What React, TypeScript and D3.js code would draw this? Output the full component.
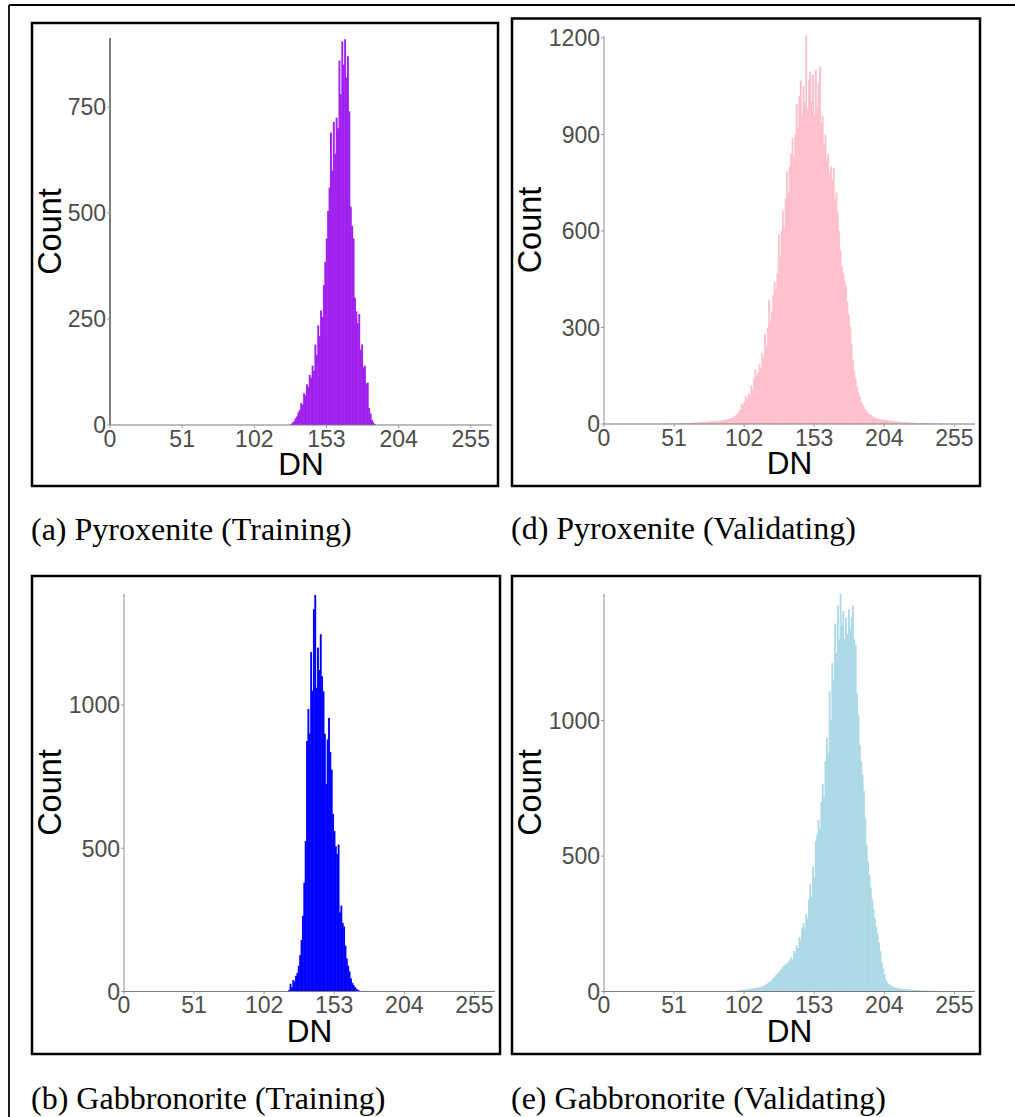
import React from 'react';
import * as d3 from 'd3';

// ---------- data ----------
const dnTicks = [0, 51, 102, 153, 204, 255];
const dnDomainMax = 270;

// (a) Pyroxenite (Training): counts per DN, starting at DN 128
const pyroxTrainStart = 128;
const pyroxTrainCounts = [
  3, 6, 9, 16, 20, 30, 36, 52, 48, 75,
  70, 96, 90, 118, 112, 140, 128, 190, 165, 235,
  210, 270, 255, 330, 385, 440, 505, 560, 690, 600,
  715, 640, 725, 700, 860, 780, 905, 850, 910, 820,
  870, 740, 515, 470, 440, 300, 268, 240, 262, 178,
  190, 136, 140, 98, 100, 40, 27, 12, 6, 2,
];
const pyroxTrainYTicks = [0, 250, 500, 750];
const pyroxTrainYMax = 913;

// (d) Pyroxenite (Validating): counts per DN, starting at DN 45
const pyroxValidStart = 45;
const pyroxValidCounts = [
  1, 1, 1, 1, 1, 1, 2, 1, 2, 2, 2, 2, 3, 2, 3,
  3, 3, 4, 3, 4, 4, 5, 4, 5, 5, 6, 5, 6, 6, 7, 7, 8, 7, 8, 9,
  9, 8, 10, 9, 11, 10, 12, 11, 14, 13, 16, 15, 19, 18, 22, 25, 28, 32, 38, 45,
  62, 58, 70, 86, 75, 95, 88, 120, 108, 140, 170, 150, 160, 186, 175, 220, 205, 280, 240, 300,
  385, 320, 350, 400, 441, 420, 470, 590, 520, 600, 663, 610, 700, 785, 720, 800, 840, 890, 830, 900,
  995, 920, 1020, 1067, 960, 1050, 1000, 1208, 980, 1070, 1095, 1000, 1085, 960, 1100, 990, 1060, 1111, 940, 956,
  870, 900, 818, 840, 780, 800, 760, 796, 700, 720, 657, 600, 540, 491, 470, 445, 430, 380, 340, 302,
  250, 200, 164, 140, 115, 97, 85, 70, 62, 53, 45, 40, 35, 30, 28, 25, 22, 20, 18, 17,
  16, 15, 14, 14, 13, 12, 12, 11, 10, 10, 9, 9, 8, 8, 7, 7, 7, 6, 6, 6,
  5, 5, 5, 4, 4, 4, 4, 3, 3, 3, 3, 3, 2, 2, 2, 2, 2, 2, 1, 1,
  1, 1, 1, 1, 1, 1, 0, 1, 0, 1,
];
const pyroxValidYTicks = [0, 300, 600, 900, 1200];
const pyroxValidYMax = 1206;

// (b) Gabbronorite (Training): counts per DN, starting at DN 120
const gabbroTrainStart = 120;
const gabbroTrainCounts = [
  5, 27, 15, 40, 35, 55, 65, 90, 127, 180,
  264, 380, 525, 874, 986, 900, 1185, 1050, 1334, 1384,
  1060, 1200, 1122, 1247, 1100, 1048, 900, 724, 880, 955,
  836, 774, 620, 560, 507, 480, 513, 276, 300, 240,
  227, 160, 115, 90, 70, 46, 30, 22, 15, 10,
  6, 3,
];
const gabbroTrainYTicks = [0, 500, 1000];
const gabbroTrainYMax = 1389;

// (e) Gabbronorite (Validating): counts per DN, starting at DN 95
const gabbroValidStart = 95;
const gabbroValidCounts = [
  1, 2, 3, 4, 5, 5, 6, 7, 7, 8, 9, 10, 11, 12, 12, 13, 14, 15, 16, 17,
  19, 21, 23, 26, 30, 34, 38, 42, 48, 54, 60, 66, 71, 78, 84, 90, 96, 100, 104, 108,
  115, 125, 118, 150, 140, 170, 160, 200, 190, 235, 253, 230, 286, 270, 340, 397, 350, 460, 420, 555,
  580, 634, 600, 700, 766, 720, 850, 937, 880, 1108, 1000, 1213, 1150, 1358, 1250, 1424, 1300, 1469, 1350, 1404,
  1300, 1380, 1320, 1411, 1340, 1380, 1424, 1300, 1279, 1100, 1020, 911, 850, 800, 740, 640, 542, 480, 430, 384,
  340, 305, 270, 240, 213, 180, 150, 108, 85, 65, 42, 35, 28, 24, 20, 18, 16, 14, 13, 12,
  11, 10, 10, 9, 9, 8, 8, 7, 7, 6, 6, 5, 5, 5, 4, 4, 4, 3, 3, 3,
  3, 3, 2, 2, 2, 2, 2, 2, 1, 1, 1, 1, 1, 1, 1, 1, 1, 1, 1, 1,
];
const gabbroValidYTicks = [0, 500, 1000];
const gabbroValidYMax = 1469;

const captions = [
  '(a) Pyroxenite (Training)',
  '(d) Pyroxenite (Validating)',
  '(b) Gabbronorite (Training)',
  '(e) Gabbronorite (Validating)',
];
const fills = ['#a020f0', '#ffc0cb', '#0000ff', '#add8e6'];

// ---------- layout ----------
const layouts = [
  { box: [32, 23, 498, 486], plot: { l: 110, t: 38, r: 492, b: 425 }, countX: 49.5, capX: 31, capY: 540, yAxisColor: '#3a3a3a' },
  { box: [512, 18.5, 980, 486], plot: { l: 604, t: 36, r: 975, b: 424 }, countX: 530, capX: 511, capY: 538.5, yAxisColor: '#a8a8a8' },
  { box: [32, 576, 500, 1054], plot: { l: 124, t: 593.5, r: 495, b: 991.5 }, countX: 50, capX: 31, capY: 1108.5, yAxisColor: '#a8a8a8' },
  { box: [512, 576, 980, 1054], plot: { l: 604, t: 593.5, r: 975, b: 991.5 }, countX: 530, capX: 511, capY: 1108.5, yAxisColor: '#a8a8a8' },
];

const series = [
  { start: pyroxTrainStart, counts: pyroxTrainCounts, yTicks: pyroxTrainYTicks, yMax: pyroxTrainYMax },
  { start: pyroxValidStart, counts: pyroxValidCounts, yTicks: pyroxValidYTicks, yMax: pyroxValidYMax },
  { start: gabbroTrainStart, counts: gabbroTrainCounts, yTicks: gabbroTrainYTicks, yMax: gabbroTrainYMax },
  { start: gabbroValidStart, counts: gabbroValidCounts, yTicks: gabbroValidYTicks, yMax: gabbroValidYMax },
];

const SANS = '"Liberation Sans", Arial, sans-serif';
const SERIF = '"Liberation Serif", "Times New Roman", serif';

function Panel({ idx }: { idx: number }) {
  const L = layouts[idx];
  const S = series[idx];
  const { l, t, r, b } = L.plot;
  const x = d3.scaleLinear().domain([0, dnDomainMax]).range([l, r]);
  const y = d3.scaleLinear().domain([0, S.yMax]).range([b, t]);
  const bars = S.counts.map((c, i) => ({ dn: S.start + i, c }));
  const [bx0, by0, bx1, by1] = L.box;
  return (
    <g>
      <rect x={bx0} y={by0} width={bx1 - bx0} height={by1 - by0} fill="none" stroke="#000" strokeWidth={2.5} />
      {bars.filter(d => d.c > 0).map(d => {
        const x0 = x(d.dn - 0.5);
        const x1 = x(d.dn + 0.5);
        return (
          <rect key={d.dn} x={x0} y={y(d.c)} width={x1 - x0 + 0.5} height={b - y(d.c)} fill={fills[idx]} />
        );
      })}
      <line x1={l} x2={l} y1={t} y2={b} stroke={L.yAxisColor} strokeWidth={1.3} />
      <line x1={l} x2={r} y1={b} y2={b} stroke="#7a7a7a" strokeWidth={1.2} />
      {S.yTicks.map(v => (
        <g key={'y' + v}>
          <line x1={l - 3} x2={l} y1={y(v)} y2={y(v)} stroke="#9a9a9a" strokeWidth={1} />
          <text x={l - 4} y={y(v)} dy="0.36em" textAnchor="end" fontFamily={SANS} fontSize={23} fill="#4d4d4d">{v}</text>
        </g>
      ))}
      {dnTicks.map(v => (
        <g key={'x' + v}>
          <line x1={x(v)} x2={x(v)} y1={b} y2={b + 3} stroke="#9a9a9a" strokeWidth={1} />
          <text x={x(v)} y={b + 21.5} textAnchor="middle" fontFamily={SANS} fontSize={23} fill="#4d4d4d">{v}</text>
        </g>
      ))}
      <text x={(l + r) / 2} y={b + 50} textAnchor="middle" fontFamily={SANS} fontSize={31.5} fill="#000">DN</text>
      <text transform={`translate(${L.countX},${(t + b) / 2}) rotate(-90)`} textAnchor="middle" dominantBaseline="central" fontFamily={SANS} fontSize={32.5} fill="#000">Count</text>
      <text x={L.capX} y={L.capY} fontFamily={SERIF} fontSize={32} fill="#000">{captions[idx]}</text>
    </g>
  );
}

export default function App() {
  return (
    <svg width={1015} height={1117} style={{ position: 'absolute', left: 0, top: 0, background: '#fff' }}>
      <rect x={0} y={0} width={1015} height={1117} fill="#fff" />
      <line x1={9} x2={1015} y1={5} y2={5} stroke="#000" strokeWidth={1.8} />
      <line x1={9} x2={9} y1={5} y2={1117} stroke="#000" strokeWidth={1.8} />
      {[0, 1, 2, 3].map(i => <Panel key={i} idx={i} />)}
    </svg>
  );
}
